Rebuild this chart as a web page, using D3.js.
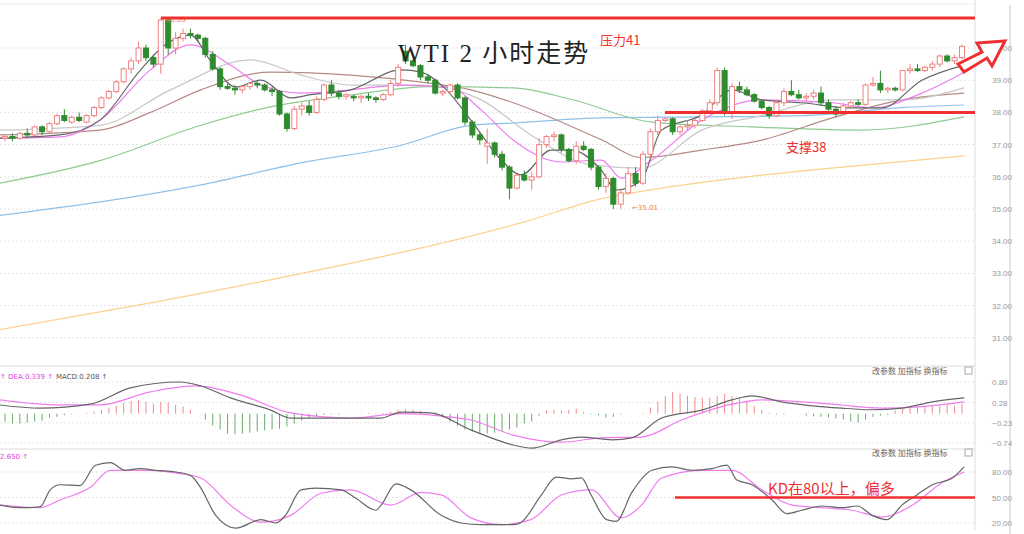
<!DOCTYPE html>
<html><head><meta charset="utf-8">
<script src="https://cdn.jsdelivr.net/npm/d3@7"></script>
<style>body{margin:0;background:#fff}svg{display:block;font-family:"DejaVu Sans",sans-serif}</style>
</head><body><div class="main"></div>
<script>
////Data: [open, high, low, close]
const candles = [
[37.2,37.3,37.1,37.25],[37.25,37.35,37.1,37.2],[37.2,37.4,37.15,37.35],[37.35,37.5,37.2,37.3],[37.3,37.6,37.25,37.55],
[37.55,37.6,37.3,37.4],[37.4,37.7,37.35,37.65],[37.65,37.95,37.6,37.9],[37.9,38.1,37.7,37.75],
[37.7,37.9,37.65,37.85],[37.85,38.0,37.7,37.75],[37.7,37.95,37.65,37.9],[37.9,38.2,37.85,38.15],
[38.15,38.5,38.1,38.45],[38.45,38.7,38.4,38.65],[38.65,39.0,38.6,38.95],[38.95,39.4,38.9,39.35],[39.35,39.7,39.2,39.6],
[39.6,40.2,39.5,40.0],[40.0,40.1,39.6,39.7],[39.7,39.8,39.4,39.5],[39.5,40.9,39.2,40.87],[40.87,40.9,39.8,40.0],
[40.0,40.5,39.8,40.3],[40.3,40.6,40.2,40.45],[40.45,40.6,40.3,40.4],[40.4,40.45,40.2,40.3],[40.3,40.35,39.7,39.8],
[39.8,39.9,39.3,39.35],[39.35,39.4,38.7,38.8],[38.8,38.9,38.7,38.75],[38.75,38.85,38.55,38.7],[38.7,38.85,38.6,38.8],
[38.8,38.95,38.7,38.9],[38.9,39.0,38.75,38.85],[38.85,38.9,38.65,38.7],[38.7,38.8,38.5,38.65],[38.65,38.7,37.9,37.95],
[37.95,38.0,37.4,37.5],[37.5,38.2,37.45,38.1],[38.1,38.3,37.9,38.2],[38.2,38.35,37.9,38.0],[38.0,38.5,37.95,38.4],
[38.4,38.9,38.35,38.85],[38.85,39.0,38.5,38.6],[38.6,38.7,38.4,38.5],[38.5,38.6,38.4,38.55],
[38.5,38.55,38.35,38.45],[38.45,38.55,38.3,38.5],[38.5,38.6,38.35,38.45],[38.45,38.5,38.3,38.4],[38.4,38.6,38.35,38.55],
[38.55,39.0,38.5,38.9],[38.9,39.5,38.8,39.4],[39.9,40.1,39.5,39.6],[39.6,39.65,39.4,39.45],[39.45,39.5,39.0,39.1],
[39.1,39.2,38.9,39.0],[39.0,39.05,38.55,38.6],[38.6,38.7,38.5,38.65],[38.65,38.9,38.55,38.85],[38.85,38.9,38.4,38.45],
[38.45,38.5,37.6,37.7],[37.7,37.75,37.2,37.3],[37.3,37.4,37.0,37.15],[36.95,37.5,36.4,37.05],[37.05,37.1,36.6,36.7],
[36.7,36.8,36.2,36.3],[36.3,36.35,35.3,35.65],[35.65,36.1,35.6,36.05],[36.05,36.2,35.85,35.9],[35.9,36.15,35.6,36.0],
[36.0,37.2,35.95,37.0],[37.0,37.3,36.9,37.25],[37.25,37.4,37.1,37.3],[37.3,37.35,36.75,36.85],[36.85,36.9,36.45,36.5],
[36.5,37.1,36.4,36.95],[36.95,37.1,36.8,36.85],[36.85,36.9,36.2,36.3],[36.3,36.35,35.6,35.7],[35.7,36.1,35.5,35.95],
[35.95,36.0,35.0,35.15],[35.15,35.6,35.01,35.5],[35.5,36.3,35.45,36.1],[36.1,36.3,35.7,35.8],[35.8,36.8,35.75,36.7],
[36.7,37.5,36.6,37.4],[37.4,37.9,37.3,37.75],[37.75,37.85,37.7,37.8],[37.8,37.85,37.3,37.4],[37.4,37.6,37.3,37.55],
[37.55,37.75,37.45,37.6],[37.6,37.8,37.5,37.75],[37.75,38.1,37.7,38.05],[38.05,38.4,38.0,38.3],[38.3,39.4,38.2,39.3],
[39.3,39.4,37.9,38.0],[38.0,38.9,37.8,38.8],[38.8,38.95,38.6,38.7],[38.7,38.8,38.5,38.55],[38.55,38.6,38.3,38.35],
[38.35,38.4,38.1,38.15],[38.15,38.2,37.8,37.9],[37.9,38.4,37.85,38.3],[38.3,38.75,38.2,38.65],[38.65,39.0,38.5,38.55],
[38.55,38.7,38.4,38.45],[38.45,38.6,38.35,38.5],[38.5,38.7,38.4,38.6],[38.6,38.8,38.2,38.3],[38.3,38.4,38.05,38.1],
[38.1,38.2,37.85,37.95],[37.95,38.3,37.9,38.2],[38.2,38.35,38.15,38.3],[38.3,38.4,38.2,38.25],[38.25,38.9,38.2,38.85],
[38.85,39.1,38.8,38.9],[38.9,39.3,38.6,38.7],[38.7,38.8,38.6,38.75],[38.75,38.8,38.65,38.7],[38.7,39.3,38.65,39.3],
[39.3,39.5,39.2,39.35],[39.35,39.5,39.25,39.3],[39.3,39.45,39.25,39.4],
[39.4,39.6,39.3,39.5],[39.5,39.8,39.4,39.75],[39.75,39.8,39.55,39.6],[39.6,39.8,39.5,39.7],[39.7,40.1,39.65,40.05]
];

////Moving averages: [candle index, price]
const ma5 = [[-0.7,37.2],[7.4,37.3],[12.8,37.76],[18.2,39.3],[21.6,40.1],[25,40.4],[27.7,39.6],[31.1,38.79],[34.5,39.0],[38.5,38.45],[41.2,38.55],[46.6,38.7],[53.4,39.32],[56.1,39.25],[59.5,38.7],[62.8,37.76],[66.9,36.52],[69.6,36.06],[73.6,36.83],[76.4,36.83],[80.4,36.2],[82.4,35.59],[85.8,35.9],[88.5,37.45],[93.9,37.92],[98,38.7],[102,38.39],[107.4,38.3],[114.2,38.14],[118.2,38.14],[123.6,39.0],[129.3,39.47]];
const ma10 = [[-0.7,37.2],[7.4,37.24],[12.8,37.76],[19.6,39.32],[25,40.1],[30.4,39.47],[34.5,38.85],[39.9,38.6],[46.6,38.7],[53.4,38.85],[60.1,38.76],[64.2,38.07],[68.5,37.14],[75,36.46],[80.4,36.52],[83.1,35.96],[87.2,36.52],[93.9,37.76],[102,38.39],[111.5,38.3],[116.9,38.14],[123.6,38.6],[129.3,39.25]];
const ma20 = [[-0.7,37.45],[12.8,37.6],[22.3,38.7],[33.1,39.63],[39.9,39.16],[46.6,38.85],[56.1,38.85],[64.2,38.39],[70.9,37.3],[79,36.37],[85.8,36.27],[93.9,37.45],[102,37.9],[111.5,38.39],[120.9,38.39],[129.3,38.76]];
const ma30 = [[-0.7,37.3],[12.8,37.45],[19.6,38.0],[26.4,38.7],[35.8,39.25],[46.6,39.16],[56.1,38.94],[62.8,38.7],[68.5,38.3],[80.4,37.15],[85.8,36.6],[93.9,36.83],[102,37.14],[111.5,37.83],[120.9,38.39],[129.3,38.6]];
const ma60 = [[-0.7,35.8],[12.8,36.5],[26.4,37.6],[35.8,38.17],[46.6,38.54],[57.4,38.8],[68.5,38.76],[76.4,38.4],[87.2,37.7],[100.7,37.55],[115.5,37.45],[129.3,37.86]];
const ma120 = [[-0.7,34.8],[26.4,35.75],[39.9,36.43],[53.4,36.98],[62.8,37.6],[68.5,37.67],[80.4,37.83],[93.9,37.86],[107.4,37.9],[120.9,38.15],[129.3,38.23]];
const ma250 = [[-0.7,31.25],[20,32.1],[40,33.0],[60,34.0],[70,34.6],[80,35.3],[90,35.7],[100,36.0],[115,36.35],[129.3,36.65]];

////MACD
const dif = [[-0.7,0.22],[4.7,0.14],[11.5,0.24],[16.9,0.65],[23.6,0.8],[26.4,0.7],[30.4,0.4],[35.8,0.09],[38.5,-0.11],[43.9,-0.11],[50.7,-0.11],[53.4,0.04],[57.4,0.02],[62.8,-0.41],[68.5,-0.79],[71,-0.87],[75,-0.66],[77.7,-0.59],[81.8,-0.66],[84.5,-0.61],[88.5,-0.11],[93.9,0.09],[98,0.35],[100.7,0.45],[104.7,0.3],[112.8,0.14],[116.9,0.1],[120.9,0.14],[125,0.3],[129.3,0.4]];
const dea = [[-0.7,0.35],[7.4,0.22],[12.8,0.22],[19.6,0.55],[25.7,0.7],[31.8,0.47],[38.5,0.02],[46.6,-0.11],[53.4,0],[58.8,-0.06],[62.8,-0.16],[68.5,-0.54],[75,-0.72],[80.4,-0.61],[85.8,-0.59],[91.2,-0.16],[98,0.24],[102,0.35],[111.5,0.24],[118.2,0.14],[123.6,0.18],[129.3,0.3]];
const macdHist = [
-0.2,-0.25,-0.25,-0.22,-0.2,-0.18,-0.1,
-0.08,-0.04,-0.02,0,
0.02,0.05,0.1,0.15,0.2,0.28,0.33,0.35,0.3,0.25,0.3,0.28,0.22,0.18,0.1,
0,
-0.15,-0.3,-0.4,-0.5,-0.52,-0.5,-0.48,-0.45,-0.42,-0.4,-0.38,-0.32,-0.25,-0.18,
-0.1,-0.06,-0.03,-0.02,-0.02,-0.01,0.01,0.01,0.02,0.02,0.02,0.05,
0.1,0.12,0.1,0.08,0.03,
-0.05,-0.1,-0.2,-0.3,-0.4,
-0.45,-0.5,-0.5,-0.48,-0.45,-0.4,-0.35,-0.25,
-0.2,-0.05,
0.08,0.1,0.08,0.1,0.13,0.05,
-0.02,-0.04,-0.1,-0.08,-0.02,
0,0,0.02,
0.15,0.3,0.45,0.55,0.5,0.45,0.42,0.4,0.4,0.45,0.5,0.45,0.4,0.3,0.2,
0.1,0.02,
-0.02,-0.02,0,0,
-0.05,-0.07,-0.08,-0.1,-0.12,-0.15,-0.2,-0.22,-0.15,-0.08,-0.05,-0.03,
0.08,0.12,0.15,0.18,0.2,0.22,0.2,0.22,0.2,0.25
];

////KD
const kLine = [[-0.7,41],[2,38],[4.7,39],[6.1,59],[7.4,65],[10.1,64],[12.2,88],[14.2,91],[16.2,82],[18.2,84],[20.3,82],[23,80],[25,76],[26.4,61],[28.4,29],[31.1,14],[34.5,24],[36.5,20],[37.8,29],[39.9,59],[41.9,61],[45.3,59],[47.3,49],[50,35],[50.7,41],[52.7,66],[54.7,59],[58.8,29],[61.5,20],[64.2,18],[68.5,18],[69.6,21],[72.3,53],[74.3,74],[76.4,72],[77.7,73],[79,53],[81.1,24],[82.4,22],[84.5,56],[87.2,82],[89.9,86],[92.6,82],[95.3,84],[97.3,88],[98.6,71],[100.7,65],[103.4,47],[105.4,31],[107.4,35],[110.1,40],[112.8,38],[114.9,40],[116.9,29],[118.9,24],[120.9,41],[122.9,53],[125,65],[127.7,73],[129.3,86]];
const dLine = [[-0.7,41],[4.7,38],[7.4,47],[11.5,62],[14.2,82],[19.6,82],[23.6,78],[26.4,73],[30.4,41],[34.5,21],[38.5,29],[42.6,55],[46.6,59],[52,41],[56.1,56],[58.8,53],[62.8,26],[66.9,18],[70.9,24],[75,53],[79,59],[83.1,26],[85.8,41],[88.5,73],[93.9,82],[98,82],[102,59],[106.1,41],[110.1,38],[114.2,35],[118.2,27],[122.3,41],[126.4,68],[129.3,80]];

const priceTicks = [31, 32, 33, 34, 35, 36, 37, 38, 39, 40];
const macdTicks = [0.80, 0.28, -0.23, -0.74];
const kdTicks = [80, 50, 20];

////Layout
const width = 1024, height = 534;
const plotRight = 975;
const svg = d3.select('.main').append('svg').attr('width', width).attr('height', height);

const x = d3.scaleLinear().domain([0, 129]).range([5, 962]);
const yPrice = d3.scaleLinear().domain([35, 40]).range([209, 48]);
const yMacd = d3.scaleLinear().domain([-0.74, 0.8]).range([443, 382]);
const yKd = d3.scaleLinear().domain([20, 80]).range([523, 472]);

////Frames
svg.append('line').attr('x1', 0).attr('x2', plotRight).attr('y1', 4).attr('y2', 4).attr('stroke', '#eee');
[366, 449].forEach(y => svg.append('line').attr('x1', 0).attr('x2', plotRight).attr('y1', y).attr('y2', y).attr('stroke', '#ddd'));
svg.append('line').attr('x1', plotRight).attr('x2', plotRight).attr('y1', 0).attr('y2', 530).attr('stroke', '#ddd');
svg.append('line').attr('x1', 1010).attr('x2', 1010).attr('y1', 5).attr('y2', 534).attr('stroke', '#ccc');

function grid(scale, ticks, fmt) {
  ticks.forEach(t => {
    svg.append('line').attr('x1', 0).attr('x2', plotRight).attr('y1', scale(t)).attr('y2', scale(t))
      .attr('stroke', '#e4e4e4').attr('stroke-dasharray', '2,2');
  });
  svg.append('g').attr('transform', `translate(${plotRight + 14},0)`)
    .call(d3.axisRight(scale).tickValues(ticks).tickFormat(fmt).tickSize(0))
    .call(g => g.select('.domain').remove())
    .call(g => g.selectAll('text').attr('fill', '#999').attr('font-size', 8));
}
grid(yPrice, priceTicks, d3.format('.2f'));
grid(yMacd, macdTicks, d3.format('.2f'));
grid(yKd, kdTicks, d3.format('.2f'));

////Lines
function curve(data, scale, color, w) {
  svg.append('path').datum(data)
    .attr('d', d3.line().x(d => x(d[0])).y(d => scale(d[1])).curve(d3.curveMonotoneX))
    .attr('fill', 'none').attr('stroke', color).attr('stroke-width', w || 1.2);
}
curve(ma250, yPrice, '#fcd28c');
curve(ma120, yPrice, '#8ec0ea');
curve(ma60, yPrice, '#8fcb8f');
curve(ma30, yPrice, '#b58a85');
curve(ma20, yPrice, '#c8c8c8');
curve(ma10, yPrice, '#f07cf0');
curve(ma5, yPrice, '#666');

////Candles
const up = '#f08080', down = '#2e8b2e';
const cw = 5;
const cg = svg.append('g');
candles.forEach((c, i) => {
  const rising = c[3] >= c[0];
  const col = rising ? up : down;
  cg.append('line').attr('x1', x(i)).attr('x2', x(i)).attr('y1', yPrice(c[1])).attr('y2', yPrice(c[2])).attr('stroke', col);
  const top = yPrice(Math.max(c[0], c[3])), bot = yPrice(Math.min(c[0], c[3]));
  cg.append('rect').attr('x', x(i) - cw / 2).attr('y', top).attr('width', cw).attr('height', Math.max(1, bot - top))
    .attr('fill', rising ? '#fff' : down).attr('stroke', col);
});
svg.append('text').attr('x', x(21) + 5).attr('y', 22).attr('font-size', 7).attr('fill', '#f08040').text('40.09');
svg.append('text').attr('x', x(84) + 4).attr('y', 210).attr('font-size', 7).attr('fill', '#f08040').text('←35.01');

////MACD panel
const base = yMacd(0);
macdHist.forEach((v, i) => {
  svg.append('line').attr('x1', x(i)).attr('x2', x(i)).attr('y1', base).attr('y2', yMacd(v))
    .attr('stroke', v >= 0 ? '#f08a8a' : '#6aab6a').attr('stroke-width', 1);
});
curve(dea, yMacd, '#f07cf0');
curve(dif, yMacd, '#666');
svg.append('text').attr('x', 0).attr('y', 379).attr('font-size', 7).attr('fill', '#e040e0').text('↑ DEA:0.339 ↑');
svg.append('text').attr('x', 56).attr('y', 379).attr('font-size', 7).attr('fill', '#555').text('MACD:0.208 ↑');

////KD panel
curve(dLine, yKd, '#f07cf0');
curve(kLine, yKd, '#666');
svg.append('text').attr('x', 0).attr('y', 459).attr('font-size', 7).attr('fill', '#e040e0').text('2.650 ↑');

[374, 456].forEach(y => {
  svg.append('text').attr('x', 872).attr('y', y).attr('font-size', 8).attr('fill', '#666')
    .attr('font-family', 'Noto Sans CJK SC').text('改参数  加指标  换指标');
  svg.append('rect').attr('x', 965).attr('y', y - 7).attr('width', 7).attr('height', 7).attr('fill', 'none').attr('stroke', '#aaa');
});

////Annotations
const red = '#f03030';
svg.append('line').attr('x1', x(21)).attr('x2', plotRight).attr('y1', 18).attr('y2', 18).attr('stroke', red).attr('stroke-width', 3);
svg.append('line').attr('x1', 665).attr('x2', plotRight).attr('y1', yPrice(38)).attr('y2', yPrice(38)).attr('stroke', red).attr('stroke-width', 3);
svg.append('line').attr('x1', 675).attr('x2', plotRight).attr('y1', yKd(50)).attr('y2', yKd(50)).attr('stroke', red).attr('stroke-width', 2.5);
svg.append('text').attr('x', 398).attr('y', 62).attr('font-size', 25).attr('fill', '#222').attr('letter-spacing', 2)
  .attr('font-family', '"Liberation Serif","Noto Sans CJK SC"').text('WTI 2 小时走势');
svg.append('text').attr('x', 600).attr('y', 45).attr('font-size', 13).attr('fill', red)
  .attr('font-family', 'Noto Sans CJK SC').text('压力41');
svg.append('text').attr('x', 786).attr('y', 152).attr('font-size', 13).attr('fill', red)
  .attr('font-family', 'Noto Sans CJK SC').text('支撑38');
svg.append('text').attr('x', 768).attr('y', 494).attr('font-size', 15).attr('fill', red)
  .attr('font-family', 'Noto Sans CJK SC').text('KD在80以上，偏多');
svg.append('path')
  .attr('d', 'M958,64 L982,52 L977,43 L1005,41 L992,66 L987,58 L964,72 Z')
  .attr('fill', '#fff').attr('stroke', red).attr('stroke-width', 3).attr('stroke-linejoin', 'miter');
</script>
</body></html>
